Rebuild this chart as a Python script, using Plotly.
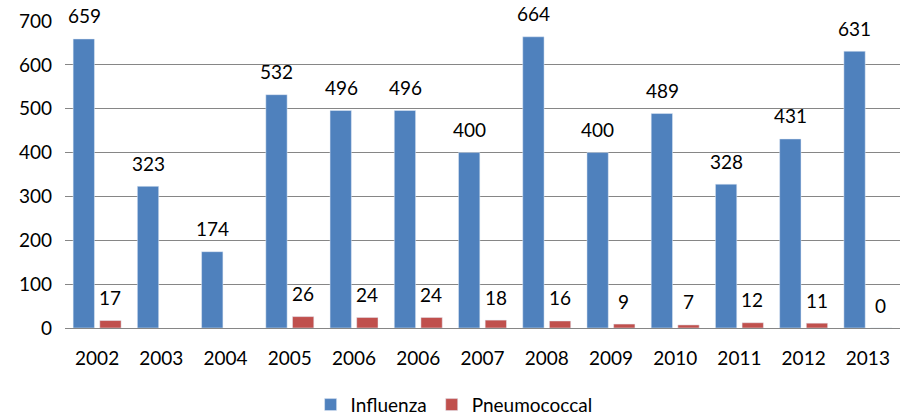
import plotly.graph_objects as go

categories = ["2002", "2003", "2004", "2005", "2006", "2006", "2007",
              "2008", "2009", "2010", "2011", "2012", "2013"]
influenza = [659, 323, 174, 532, 496, 496, 400, 664, 400, 489, 328, 431, 631]
pneumococcal = [17, None, None, 26, 24, 24, 18, 16, 9, 7, 12, 11, 0]
y_ticks = [0, 100, 200, 300, 400, 500, 600, 700]

FONT = "Lato, 'Open Sans', sans-serif"
FS = 19
C_INF = "#4F81BD"
C_PNE = "#C0504D"

xpos = list(range(len(categories)))

fig = go.Figure()
fig.add_trace(go.Bar(x=xpos, y=influenza, name="Influenza", marker_color=C_INF))
fig.add_trace(go.Bar(x=xpos, y=pneumococcal, name="Pneumococcal", marker_color=C_PNE))

BAR_SHIFT = 13
annotations = []
for series, shift in ((influenza, -BAR_SHIFT), (pneumococcal, BAR_SHIFT)):
    for xi, v in zip(xpos, series):
        if v is None:
            continue
        annotations.append(dict(
            x=xi, y=v, xref="x", yref="y", text=str(v), showarrow=False,
            xshift=shift, yshift=23, yanchor="middle", xanchor="center",
            font=dict(family=FONT, size=FS, color="#000000"),
        ))

fig.update_layout(
    width=901, height=417,
    margin=dict(l=65, r=1, t=21, b=89, autoexpand=False),
    paper_bgcolor="white", plot_bgcolor="white",
    barmode="group", bargap=0.17, bargroupgap=0.2,
    font=dict(family=FONT, size=FS, color="#000000"),
    showlegend=True,
    legend=dict(orientation="h", x=0.466, xanchor="center", y=-0.25, yanchor="middle",
                font=dict(family=FONT, size=FS, color="#000000"), traceorder="normal"),
    annotations=annotations,
)
fig.update_xaxes(
    tickmode="array", tickvals=xpos, ticktext=categories,
    range=[-0.5, len(categories) - 0.5],
    showgrid=False, zeroline=False, showline=False, ticks="",
    ticklabelstandoff=17, automargin=False,
    tickfont=dict(family=FONT, size=FS, color="#000000"),
)
fig.update_yaxes(
    range=[0, 700], tickmode="array", tickvals=y_ticks,
    showgrid=True, gridcolor="#868686", gridwidth=1,
    zeroline=True, zerolinecolor="#868686", zerolinewidth=1,
    showline=False, ticks="",
    ticklabelstandoff=12, automargin=False,
    tickfont=dict(family=FONT, size=FS, color="#000000"),
)

# remove the browser's default 8px body margin so the figure fills the window
fig.write_html("out.html", config={"displayModeBar": False},
               post_script="document.body.style.margin='0';")
